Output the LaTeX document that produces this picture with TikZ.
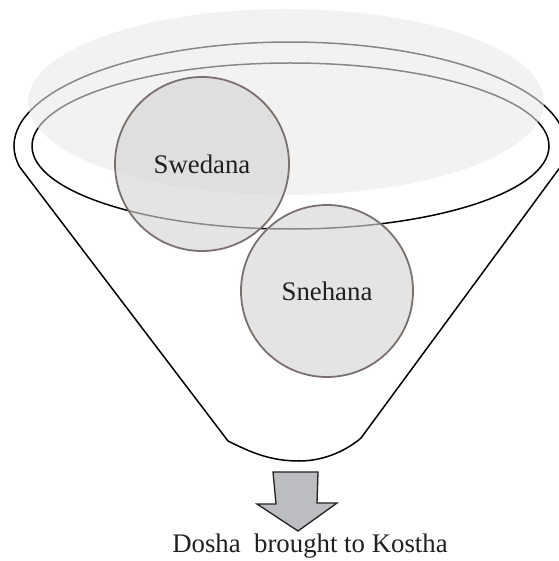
\documentclass[tikz,border=0pt]{standalone}
\usepackage{fontspec}
\setmainfont{Liberation Serif}
\definecolor{ballfill}{HTML}{D5D5D5}
\definecolor{balledge}{HTML}{7A716E}
\definecolor{hazefill}{HTML}{E9E9E9}
\definecolor{arrowfill}{HTML}{BCBDC0}
\definecolor{ink}{HTML}{231F20}
\begin{document}
\begin{tikzpicture}[x=0.5pt,y=0.5pt,
  rim/.style={draw=black, line width=0.75pt, line join=round},
  haze/.style={fill=hazefill, fill opacity=0.58},
  ball/.style={circle, draw=balledge, line width=0.9pt, fill=ballfill,
    fill opacity=0.64, draw opacity=1, text opacity=1, inner sep=0pt,
    minimum size=87pt, text=ink, font=\fontsize{13.4}{15}\selectfont},
  downarrow/.style={draw=ink, fill=arrowfill, line width=0.65pt, line join=miter},
  caption/.style={anchor=base, inner sep=0pt, text=ink, font=\fontsize{13.4}{15}\selectfont}]
\useasboundingbox (0,0) rectangle (558,-561);

% funnel body: rim on top, straight walls, rounded spout
\draw[rim] (19.7,-167) arc[start angle=191.65, end angle=-11.65, x radius=138pt, y radius=52pt]
  -- (361,-438)
  .. controls (347,-450) and (325,-461) .. (299,-461)
  .. controls (270,-461) and (250,-452) .. (228,-441)
  -- cycle;

% mouth of the funnel
\draw[rim] (290.5,-146) ellipse[x radius=129.25pt, y radius=41.5pt];

% soft haze over the mouth
\fill[haze] (286,-102) ellipse[x radius=129pt, y radius=46.5pt];

% the two therapies
\node[ball, minimum size=87pt] (swedana) at (202,-164) {Swedana};
\node[ball, minimum size=86pt] (snehana) at (327,-291) {Snehana};

% outflow arrow and result
\draw[downarrow] (273,-472) -- (318,-472) -- (317,-503) -- (337,-503)
  -- (298,-531) -- (257,-504) -- (276,-504) -- cycle;
\node[caption] (outcome) at (310,-552) {Dosha\ \ brought to Kostha};
\end{tikzpicture}
\end{document}
